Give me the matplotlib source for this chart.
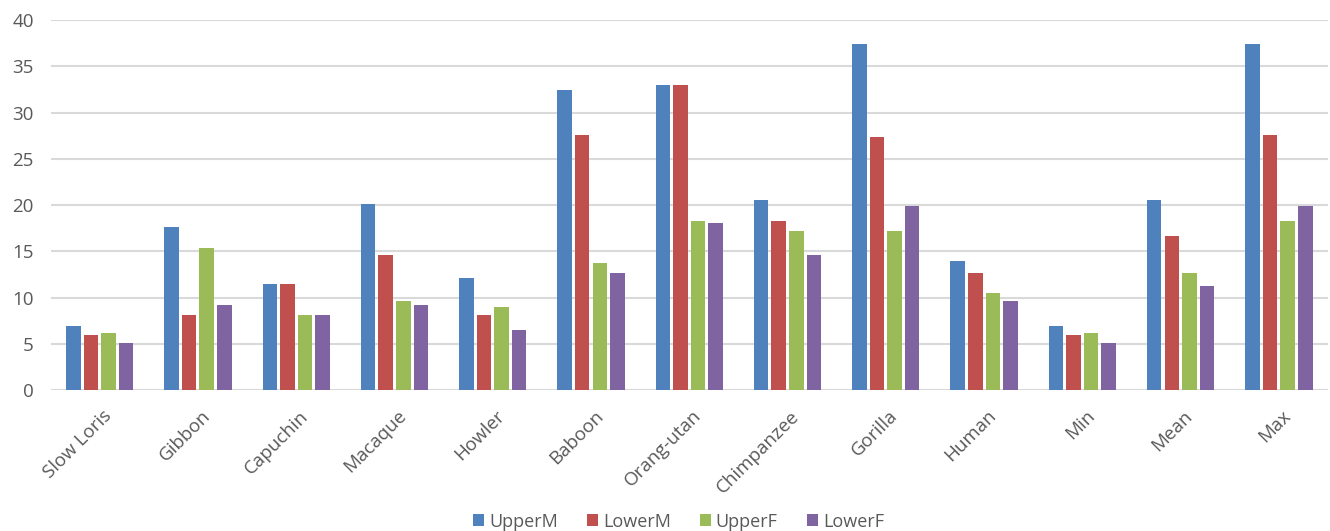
import numpy as np
import matplotlib.pyplot as plt
from matplotlib.transforms import ScaledTranslation

plt.rcParams['font.family'] = ['Open Sans', 'DejaVu Sans']

species = ["Slow Loris", "Gibbon", "Capuchin", "Macaque", "Howler", "Baboon",
           "Orang-utan", "Chimpanzee", "Gorilla", "Human", "Min", "Mean", "Max"]
upper_m = [6.9, 17.6, 11.5, 20.1, 12.1, 32.4, 33.0, 20.5, 37.4, 13.9, 6.9, 20.5, 37.4]
lower_m = [6.0, 8.1, 11.5, 14.6, 8.1, 27.6, 33.0, 18.3, 27.4, 12.6, 6.0, 16.6, 27.6]
upper_f = [6.2, 15.3, 8.1, 9.6, 9.0, 13.7, 18.3, 17.2, 17.2, 10.5, 6.2, 12.6, 18.3]
lower_f = [5.1, 9.2, 8.1, 9.2, 6.5, 12.6, 18.1, 14.6, 19.9, 9.6, 5.1, 11.2, 19.9]

series = [("UpperM", upper_m, "#4F81BD"),
          ("LowerM", lower_m, "#C0504D"),
          ("UpperF", upper_f, "#9BBB59"),
          ("LowerF", lower_f, "#8064A2")]

fig = plt.figure(figsize=(13.3, 5.31), dpi=100)
ax = fig.add_axes([0.038, 0.2655, 0.9605, 0.6968])

x = np.arange(len(species))
slot = 0.179
width = 0.148
for i, (name, vals, color) in enumerate(series):
    ax.bar(x + (i - 1.5) * slot, vals, width, color=color, label=name, zorder=3)

ax.set_xlim(-0.5, len(species) - 0.5)
ax.set_ylim(0, 40)
ax.set_yticks(range(0, 41, 5))
ax.yaxis.grid(True, color="#D9D9D9", linewidth=1.5, zorder=0)
ax.set_axisbelow(True)
for s in ax.spines.values():
    s.set_visible(False)
ax.tick_params(axis="both", length=0, colors="#595959", labelsize=13.5)
ax.tick_params(axis="y", pad=12)
ax.set_xticks(x)
ax.set_xticklabels(species, rotation=45, ha="right", rotation_mode="anchor", fontsize=13.5)
# push the slanted category labels down a little
shift = ScaledTranslation(0.03, -0.12, fig.dpi_scale_trans)
for lbl in ax.get_xticklabels():
    lbl.set_color("#595959")
    lbl.set_transform(lbl.get_transform() + shift)

fig.legend(loc="lower center", ncol=4, frameon=False, fontsize=13,
           handlelength=0.65, handleheight=0.65, handletextpad=0.25,
           columnspacing=1.6, bbox_to_anchor=(0.51, -0.03), labelcolor="#595959")

fig.savefig("out.png", dpi=100)
